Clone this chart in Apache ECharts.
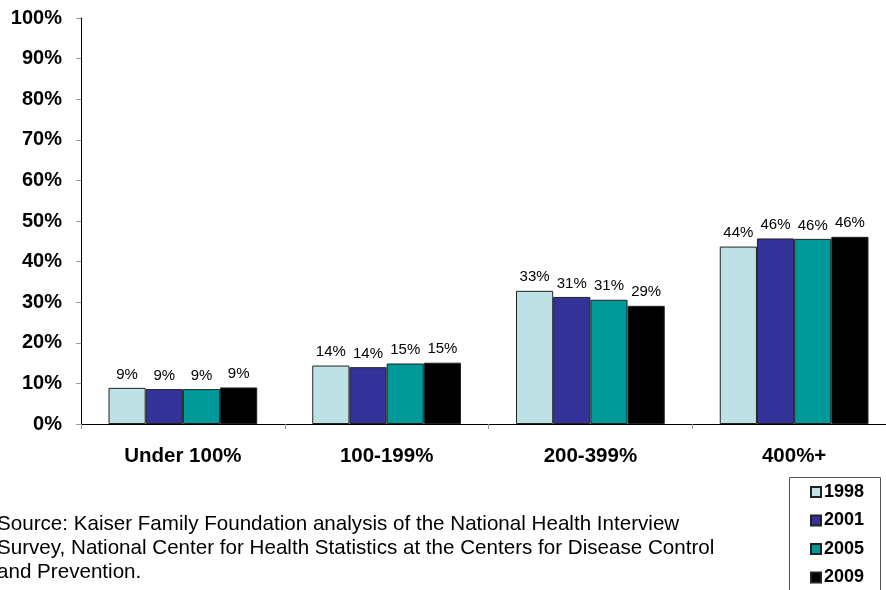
<!DOCTYPE html>
<html>
<head>
<meta charset="utf-8">
<script src="https://cdn.jsdelivr.net/npm/echarts@6/dist/echarts.min.js"></script>
<style>
  html, body { margin: 0; padding: 0; background: #fff; overflow: hidden; }
  /* the canvas is a little wider than the window so the last category runs off the right edge */
  #chart { width: 900px; height: 590px; }
</style>
</head>
<body>
<div id="chart"></div>
<script>
// Income groups (percent of poverty level)
const categories = ['Under 100%', '100-199%', '200-399%', '400%+'];
const years = ['1998', '2001', '2005', '2009'];

// Share of people in each group, by survey year (%)
const values1998 = [8.9, 14.4, 32.8, 43.7];
const values2001 = [8.6, 14.0, 31.3, 45.7];
const values2005 = [8.6, 14.9, 30.6, 45.6];
const values2009 = [9.0, 15.1, 29.1, 46.1];

const yTicks = { min: 0, max: 100, interval: 10 };

const seriesValues = [values1998, values2001, values2005, values2009];
const colors = ['#BDE1E4', '#333399', '#009999', '#000000'];

const chart = echarts.init(document.getElementById('chart'));

chart.setOption({
  animation: false,
  backgroundColor: '#ffffff',
  grid: { left: 81, width: 815, top: 18, height: 406, containLabel: false },
  xAxis: {
    type: 'category',
    data: categories,
    axisLine: { lineStyle: { color: '#000', width: 1 } },
    axisTick: { show: true, length: 5, lineStyle: { color: '#999' } },
    axisLabel: {
      margin: 22,
      color: '#000',
      fontFamily: 'Liberation Sans, Arial, sans-serif',
      fontWeight: 'bold',
      fontSize: 20.5
    }
  },
  yAxis: {
    type: 'value',
    min: yTicks.min,
    max: yTicks.max,
    interval: yTicks.interval,
    splitLine: { show: false },
    axisLine: { show: true, lineStyle: { color: '#000', width: 1 } },
    axisTick: { show: true, length: 5, lineStyle: { color: '#999' } },
    axisLabel: {
      margin: 19,
      color: '#000',
      fontFamily: 'Liberation Sans, Arial, sans-serif',
      fontWeight: 'bold',
      fontSize: 20,
      formatter: '{value}%'
    }
  },
  legend: {
    orient: 'vertical',
    left: 805,
    top: 478,
    height: 160,
    itemWidth: 10,
    itemHeight: 10,
    itemGap: 10.5,
    icon: 'rect',
    textStyle: {
      color: '#000',
      fontFamily: 'Liberation Sans, Arial, sans-serif',
      fontWeight: 'bold',
      fontSize: 18,
      padding: [2, 0, 0, -2]
    },
    data: years
  },
  graphic: [
    {
      type: 'rect',
      shape: { x: 789.5, y: 477.5, width: 91, height: 130 },
      style: { fill: 'none', stroke: '#555', lineWidth: 1 },
      z: 100
    },
    {
      type: 'text',
      left: -3,
      top: 512,
      style: {
        text: 'Source: Kaiser Family Foundation analysis of the National Health Interview\nSurvey, National Center for Health Statistics at the Centers for Disease Control\nand Prevention.',
        fill: '#000',
        font: '20.6px "Liberation Sans", Arial, sans-serif',
        lineHeight: 24
      }
    }
  ],
  series: seriesValues.map((vals, i) => ({
    name: years[i],
    type: 'bar',
    data: vals,
    barGap: '0%',
    barCategoryGap: '27%',
    itemStyle: { color: colors[i], borderColor: '#222', borderWidth: 1 },
    label: {
      show: true,
      position: 'top',
      distance: 6,
      color: '#000',
      fontFamily: 'Liberation Sans, Arial, sans-serif',
      fontSize: 15,
      formatter: p => Math.round(p.value) + '%'
    }
  }))
});
</script>
</body>
</html>
